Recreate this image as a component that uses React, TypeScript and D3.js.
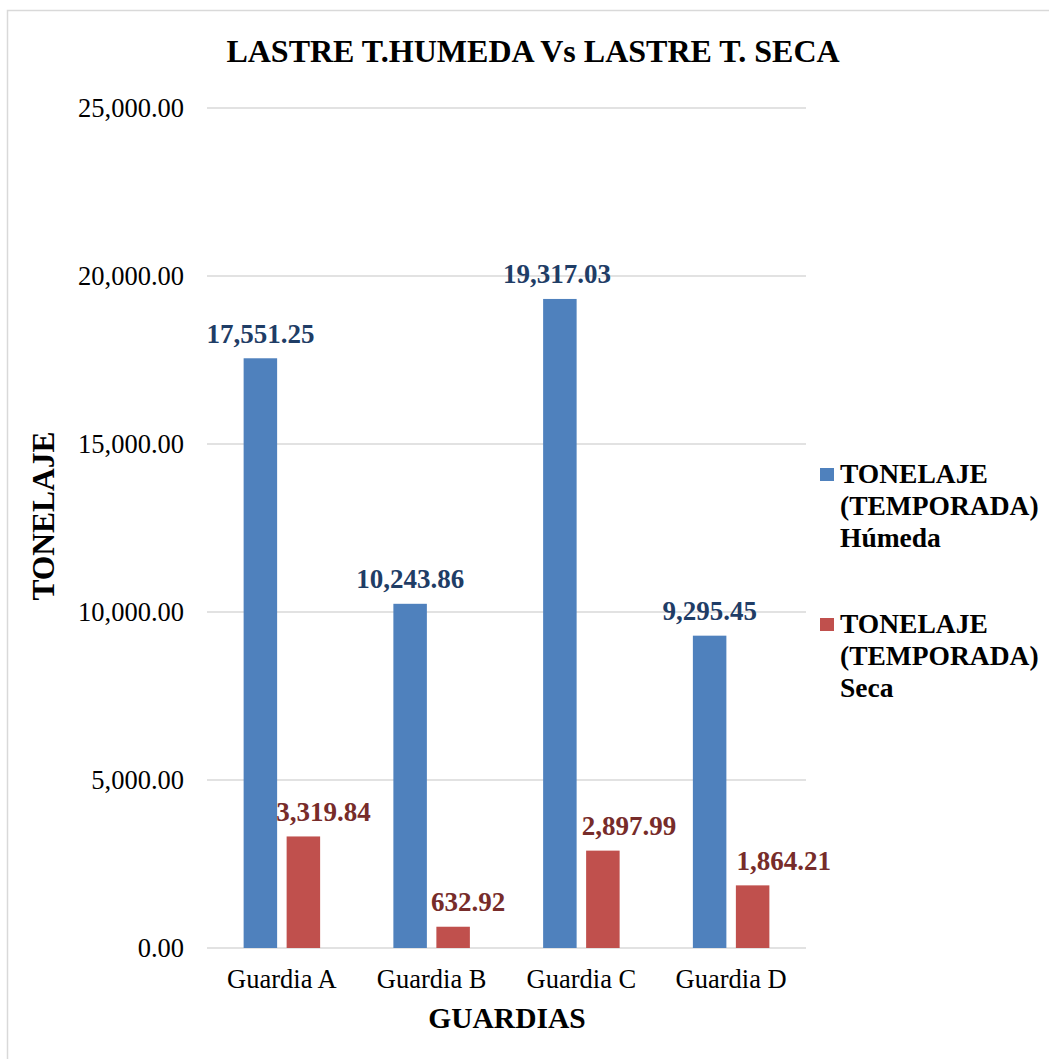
import React from "react";
import * as d3 from "d3";

const categories = ["Guardia A", "Guardia B", "Guardia C", "Guardia D"];
const humeda = [17551.25, 10243.86, 19317.03, 9295.45];
const seca = [3319.84, 632.92, 2897.99, 1864.21];
const yTicks = [0, 5000, 10000, 15000, 20000, 25000];
const seriesNames = ["TONELAJE (TEMPORADA) Húmeda", "TONELAJE (TEMPORADA) Seca"];

// manual horizontal nudges of data labels (layout only)
const humedaLabelDx = [0, 0, -3, 0];
const secaLabelDx = [20, 15, 26, 31];

const W = 1049;
const H = 1059;
const font = "'Liberation Serif', 'Times New Roman', serif";

export default function App() {
  const x = d3.scaleBand<string>().domain(categories).range([207, 806]).paddingInner(0).paddingOuter(0);
  const y = d3.scaleLinear().domain([0, 25000]).range([948, 108]);
  const fmt = d3.format(",.2f");
  const barW = 33.5;
  const gap = 9.5;
  const series = [
    { values: humeda, dx: humedaLabelDx, color: "#4F81BD", label: "#1F3D66", off: -(barW + gap) / 2 },
    { values: seca, dx: secaLabelDx, color: "#C0504D", label: "#772C2A", off: (barW + gap) / 2 },
  ];
  const legendLines = [
    ["TONELAJE", "(TEMPORADA)", "Húmeda"],
    ["TONELAJE", "(TEMPORADA)", "Seca"],
  ];
  return (
    <svg width={W} height={H} style={{ position: "absolute", left: 0, top: 0, background: "#fff" }}>
      <rect x={7.5} y={10.5} width={W + 20} height={H + 20} fill="#fff" stroke="#D9D9D9" strokeWidth={1.5} />
      <text x={533} y={62} textAnchor="middle" fontFamily={font} fontWeight="bold" fontSize={32} fill="#000">
        LASTRE T.HUMEDA Vs LASTRE T. SECA
      </text>
      {yTicks.map((t) => (
        <g key={t}>
          <line x1={207} x2={806} y1={y(t)} y2={y(t)} stroke="#D9D9D9" strokeWidth={1.5} />
          <text x={184} y={y(t) + 9} textAnchor="end" fontFamily={font} fontSize={26.5} fill="#000">
            {fmt(t)}
          </text>
        </g>
      ))}
      {series.map((s, si) =>
        categories.map((c, i) => {
          const cx = (x(c) as number) + x.bandwidth() / 2 + s.off;
          const v = s.values[i];
          return (
            <g key={`${si}-${i}`}>
              <rect x={cx - barW / 2} y={y(v)} width={barW} height={y(0) - y(v)} fill={s.color} />
              <text x={cx + s.dx[i]} y={y(v) - 15.5} textAnchor="middle" fontFamily={font} fontWeight="bold" fontSize={27} fill={s.label}>
                {fmt(v)}
              </text>
            </g>
          );
        })
      )}
      {categories.map((c) => (
        <text key={c} x={(x(c) as number) + x.bandwidth() / 2} y={988} textAnchor="middle" fontFamily={font} fontSize={26.5} fill="#000">
          {c}
        </text>
      ))}
      <text x={507} y={1028} textAnchor="middle" fontFamily={font} fontWeight="bold" fontSize={29.5} fill="#000">
        GUARDIAS
      </text>
      <text transform={`translate(54,516) rotate(-90)`} textAnchor="middle" fontFamily={font} fontWeight="bold" fontSize={31.5} fill="#000">
        TONELAJE
      </text>
      {series.map((s, si) => {
        const top = 468 + si * 150;
        return (
          <g key={seriesNames[si]}>
            <rect x={820} y={top} width={14} height={13} fill={s.color} />
            {legendLines[si].map((ln, li) => (
              <text key={li} x={840} y={top + 15 + li * 32} fontFamily={font} fontWeight="bold" fontSize={27.5} fill="#000">
                {ln}
              </text>
            ))}
          </g>
        );
      })}
    </svg>
  );
}
